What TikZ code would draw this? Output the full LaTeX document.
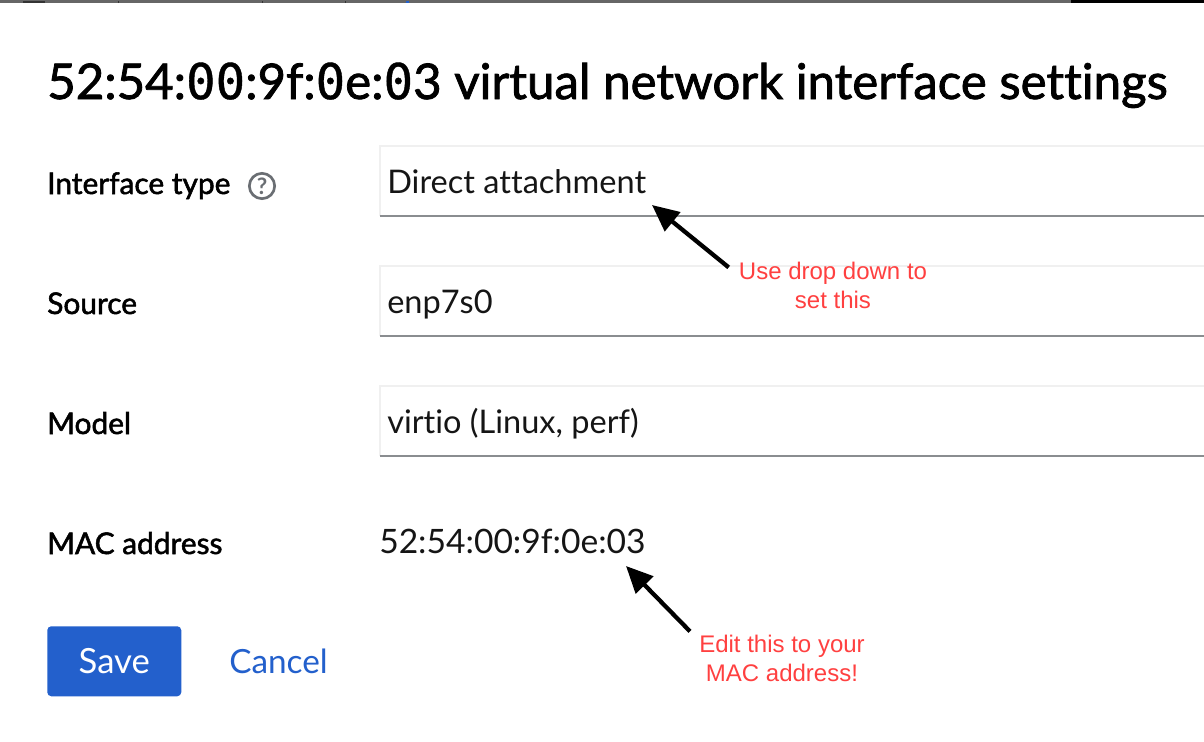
\documentclass[tikz,border=0pt]{standalone}
\usepackage{fontspec}
\setmainfont[Ligatures=NoCommon]{Lato}
\newfontfamily\titlefont[FakeBold=1.6,Ligatures=NoCommon]{Lato}
\newfontfamily\zerofont[FakeBold=.8]{DejaVu Sans Mono}
\newfontfamily\labelfont[FakeBold=1.8,Ligatures=NoCommon]{Lato}
\newfontfamily\notefont{Liberation Sans}
\usetikzlibrary{arrows.meta,positioning,calc}
\definecolor{Ink}{HTML}{151515}
\definecolor{Rule}{HTML}{8A8D90}
\definecolor{PaleRule}{HTML}{F0F0F0}
\definecolor{Blue}{HTML}{2360CC}
\definecolor{Note}{HTML}{FF4040}
\definecolor{Muted}{HTML}{6A6E73}
\definecolor{Bar}{HTML}{666666}
\definecolor{Cut}{HTML}{333333}
\newcommand{\zr}{{\zerofont 0}}
\tikzset{
  label/.style={anchor=base west,inner sep=0pt,text=black,font=\labelfont\fontsize{22.4}{26}\selectfont},
  value/.style={anchor=base west,inner sep=0pt,text=Ink,font=\fontsize{24.4}{28}\selectfont},
  field/.style={anchor=north west,inner sep=0pt,minimum width=618pt,minimum height=52pt},
  note/.style={align=center,inner sep=0pt,text=Note,font=\notefont\fontsize{18}{21.8}\selectfont},
  pointer/.style={-{Triangle[length=20pt,width=18pt]},draw=black,line width=3.2pt},
}
\begin{document}
\begin{tikzpicture}[x=.75pt,y=-.75pt]
    \useasboundingbox (0,0) rectangle (1204,742);
    \fill[white] (0,0) rectangle (1204,742);
    \fill[Bar] (0,0) rectangle (1071,3);
    \fill[black] (1071,0) rectangle (1204,3);
    \fill[Cut] (23,1.5) rectangle (45,3);
    \foreach \x in {118,262,345}
      \fill[Cut] (\x,1) rectangle (\x+1,3);
    \fill[Blue] (406,1) rectangle (409,3);

    \node[anchor=base west,inner sep=0pt,text=black,font=\titlefont\fontsize{36.9}{42}\selectfont] (title) at (47,99)
      {52:54:\zr\zr:9f:\zr e:\zr 3 virtual network interface settings};

    % input rows
    \foreach \name/\top/\val/\lab in {f1/146/Direct attachment/Interface type,f2/266/enp7s0/Source,f3/386/{virtio (Linux, perf)}/Model}{
      \node[field] (\name) at (380,\top) {};
      \draw[PaleRule,line width=1.5pt] (\name.south west) -- (\name.north west) -- (\name.north east);
      \draw[Rule,line width=1.5pt] (\name.south west) -- (\name.south east);
      \node[value] (\name val) at (387,\top+47.5) {\val};
      \node[label] (\name lab) at (47,\top+48) {\lab};
    }
    \node[circle,draw=Muted,line width=2pt,minimum size=19pt,inner sep=0pt,text=Muted,font=\fontsize{17}{17}\selectfont\bfseries] (help) at (262,186) {?};

    \node[label] (maclab) at (47,554) {MAC address};
    \node[value,font=\fontsize{25.2}{28}\selectfont] (macval) at (379,553.5) {52:54:00:9f:0e:03};

    \node[anchor=north west,fill=Blue,rounded corners=3pt,minimum width=100.5pt,minimum height=52.5pt,inner sep=0pt,text=white,font=\fontsize{26}{28}\selectfont] (save) at (47,626) {Save};
    \node[anchor=base west,inner sep=0pt,text=Blue,font=\fontsize{25}{28}\selectfont] (cancel) at (229,673.5) {Cancel};

    % annotations
    \node[note] (note1) at (833,285) {Use drop down to\\set this};
    \node[note] (note2) at (782,658) {Edit this to your\\MAC address!};
    \coordinate (tip1) at (652,205);
    \coordinate (tip2) at (626,566);
    \draw[pointer] ([shift={(-10,6)}]note1.north west) -- (tip1);
    \draw[pointer] ([shift={(-9,-3)}]note2.north west) -- (tip2);
\end{tikzpicture}
\end{document}
